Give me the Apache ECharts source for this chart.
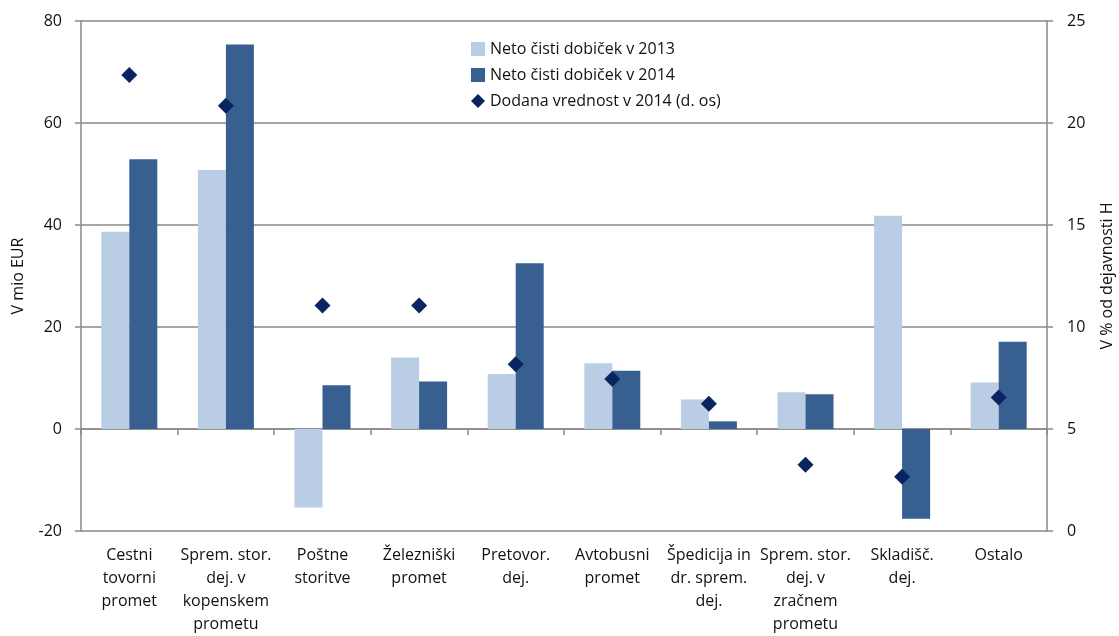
<!DOCTYPE html>
<html>
<head>
<meta charset="utf-8">
<script src="https://cdn.jsdelivr.net/npm/echarts@6/dist/echarts.min.js"></script>
<style>
html,body{margin:0;padding:0;background:#fff;}
#chart{width:1119px;height:636px;}
</style>
</head>
<body>
<div id="chart"></div>
<script>
const categories = [
  'Cestni\ntovorni\npromet',
  'Sprem. stor.\ndej. v\nkopenskem\nprometu',
  'Poštne\nstoritve',
  'Železniški\npromet',
  'Pretovor.\ndej.',
  'Avtobusni\npromet',
  'Špedicija in\ndr. sprem.\ndej.',
  'Sprem. stor.\ndej. v\nzračnem\nprometu',
  'Skladišč.\ndej.',
  'Ostalo'
];
const profit2013 = [38.7, 50.8, -15.4, 14.0, 10.8, 12.9, 5.8, 7.2, 41.8, 9.1];
const profit2014 = [52.9, 75.4, 8.6, 9.3, 32.5, 11.4, 1.5, 6.8, -17.6, 17.1];
const valueAdded2014 = [22.35, 20.85, 11.05, 11.05, 8.17, 7.45, 6.24, 3.25, 2.66, 6.55];
const leftTicks = {min: -20, max: 80, interval: 20};
const rightTicks = {min: 0, max: 25, interval: 5};

const FONT = '"Open Sans", Lato, sans-serif';
const axisGray = '#8a8a8a';

const chart = echarts.init(document.getElementById('chart'));
chart.setOption({
  animation: false,
  textStyle: {fontFamily: FONT},
  grid: {left: 81, right: 72, top: 21, bottom: 105, containLabel: false, outerBoundsMode: 'none'},
  legend: {
    orient: 'vertical',
    left: 466,
    top: 36,
    itemGap: 10,
    itemWidth: 14,
    itemHeight: 14,
    textStyle: {fontFamily: FONT, fontSize: 16, color: '#111'},
    data: [
      {name: 'Neto čisti dobiček v 2013', icon: 'rect'},
      {name: 'Neto čisti dobiček v 2014', icon: 'rect'},
      {name: 'Dodana vrednost v 2014 (d. os)', icon: 'diamond'}
    ]
  },
  xAxis: [
    {
      type: 'category',
      data: categories,
      position: 'bottom',
      axisLine: {show: false, onZero: false},
      axisTick: {show: false},
      axisLabel: {
        interval: 0, margin: 13, fontFamily: FONT, fontSize: 16,
        lineHeight: 23, color: '#111', align: 'center'
      },
      splitLine: {show: false}
    },
    {
      type: 'category',
      data: categories,
      position: 'bottom',
      axisLine: {show: true, onZero: true, onZeroAxisIndex: 0, lineStyle: {color: axisGray, width: 1.5}},
      axisTick: {show: true, length: 6, lineStyle: {color: axisGray, width: 1.5}},
      axisLabel: {show: false},
      splitLine: {show: false}
    }
  ],
  yAxis: [
    {
      type: 'value',
      min: leftTicks.min, max: leftTicks.max, interval: leftTicks.interval,
      position: 'left',
      name: 'V mio EUR',
      nameLocation: 'middle',
      nameRotate: 90,
      nameGap: 55,
      nameTextStyle: {fontFamily: FONT, fontSize: 16, color: '#111'},
      axisLine: {show: true, lineStyle: {color: axisGray, width: 1.5}},
      axisTick: {show: true, length: 6, lineStyle: {color: axisGray, width: 1.5}},
      axisLabel: {margin: 19, fontFamily: FONT, fontSize: 16, color: '#111'},
      splitLine: {show: true, lineStyle: {color: axisGray, width: 1.5}}
    },
    {
      type: 'value',
      min: rightTicks.min, max: rightTicks.max, interval: rightTicks.interval,
      position: 'right',
      name: 'V % od dejavnosti H',
      nameLocation: 'middle',
      nameRotate: 90,
      nameGap: 52,
      nameTextStyle: {fontFamily: FONT, fontSize: 16, color: '#111'},
      axisLine: {show: true, lineStyle: {color: axisGray, width: 1.5}},
      axisTick: {show: true, length: 6, lineStyle: {color: axisGray, width: 1.5}},
      axisLabel: {margin: 20, fontFamily: FONT, fontSize: 16, color: '#111'},
      splitLine: {show: false}
    }
  ],
  series: [
    {
      name: 'Neto čisti dobiček v 2013',
      type: 'bar',
      xAxisIndex: 0, yAxisIndex: 0,
      data: profit2013,
      barWidth: 28,
      barGap: '0%',
      itemStyle: {color: '#B9CDE5'}
    },
    {
      name: 'Neto čisti dobiček v 2014',
      type: 'bar',
      xAxisIndex: 0, yAxisIndex: 0,
      data: profit2014,
      barWidth: 28,
      barGap: '0%',
      itemStyle: {color: '#376090'}
    },
    {
      name: 'Dodana vrednost v 2014 (d. os)',
      type: 'scatter',
      xAxisIndex: 0, yAxisIndex: 1,
      data: valueAdded2014,
      symbol: 'diamond',
      symbolSize: 16,
      itemStyle: {color: '#0A2462', opacity: 1},
      z: 5
    }
  ]
});
</script>
</body>
</html>
